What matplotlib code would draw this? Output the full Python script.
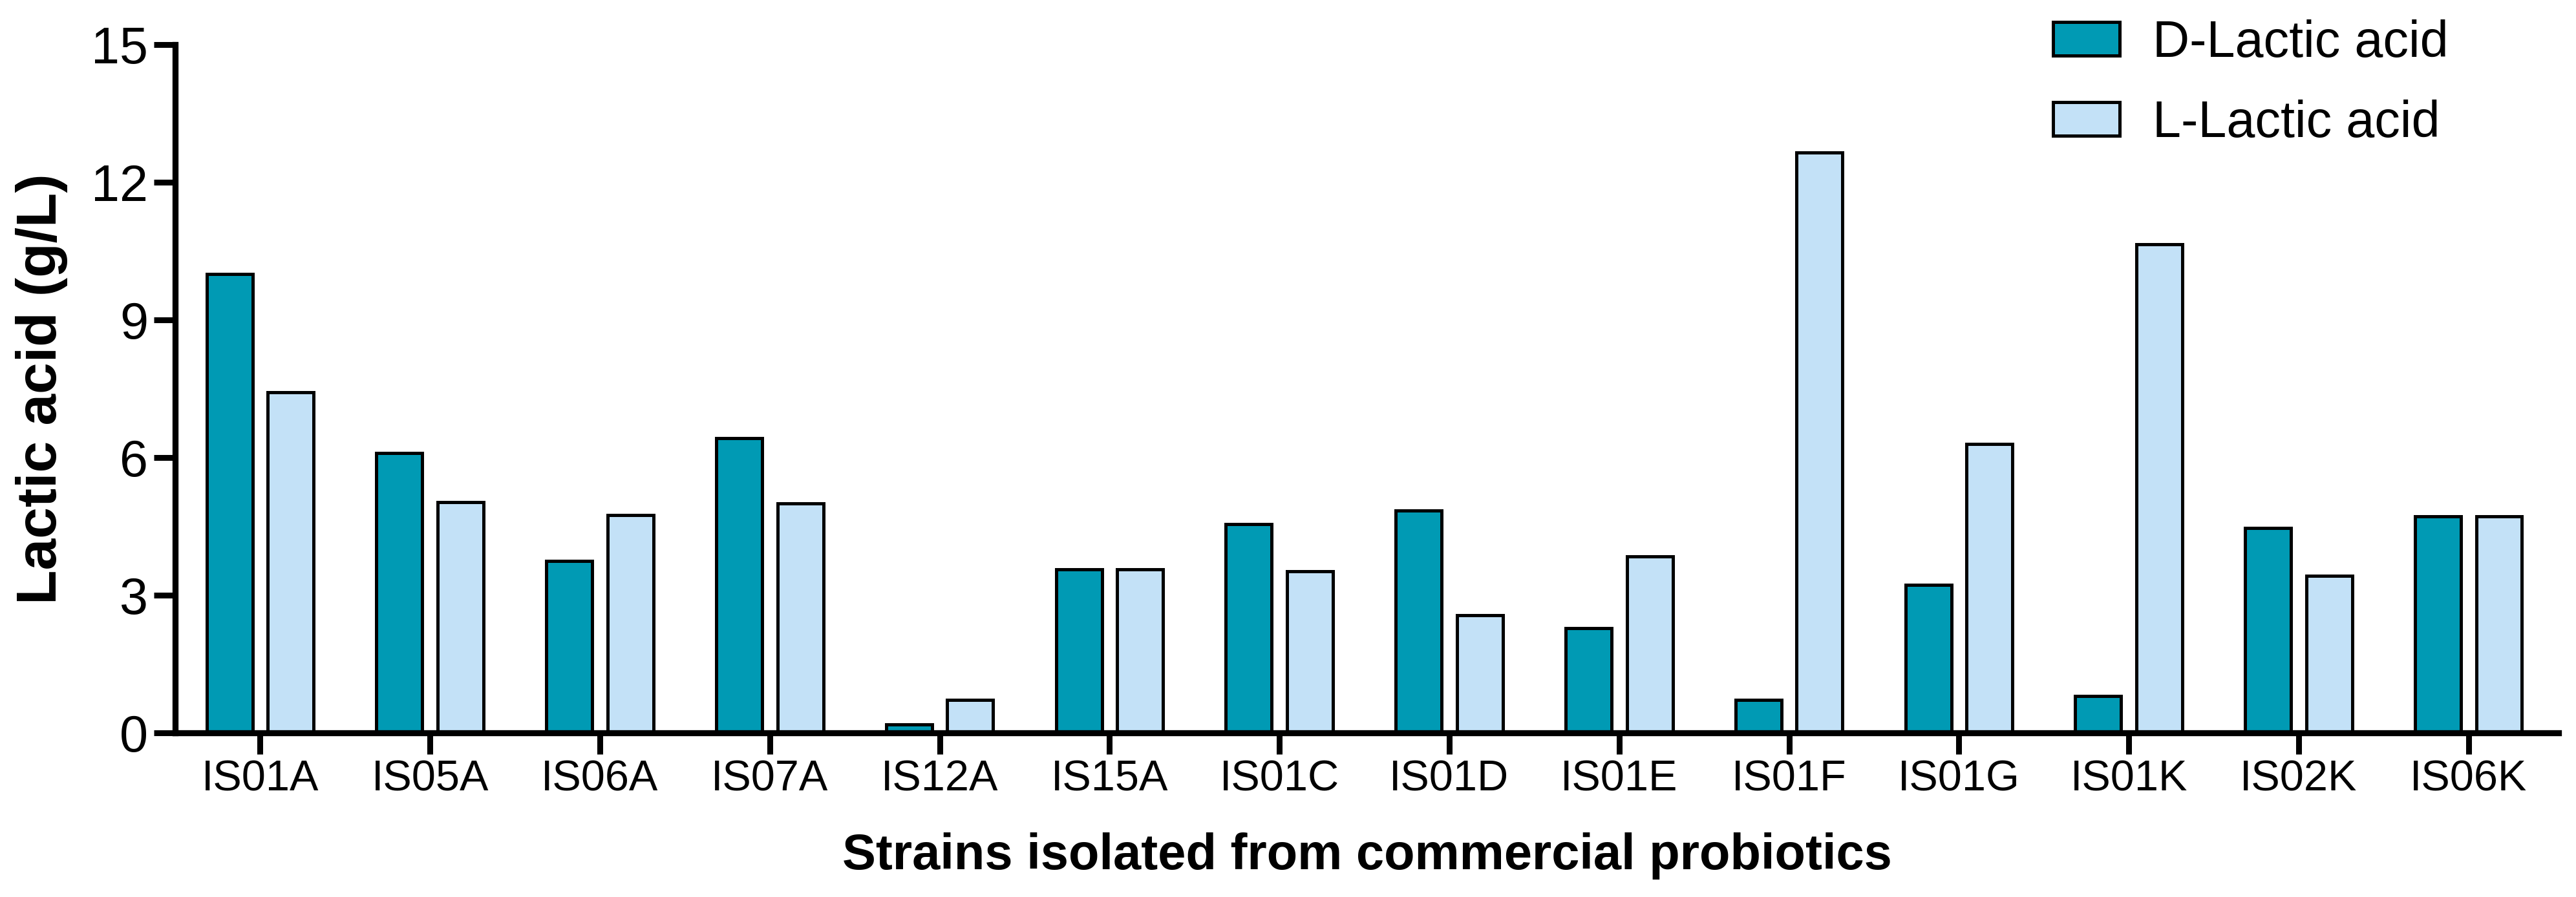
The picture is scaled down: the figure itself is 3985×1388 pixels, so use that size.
"""Lactic acid (D vs L) produced by strains isolated from commercial probiotics."""

import matplotlib
matplotlib.use("Agg")
import matplotlib.pyplot as plt
import numpy as np

strains = ["IS01A", "IS05A", "IS06A", "IS07A", "IS12A", "IS15A", "IS01C",
           "IS01D", "IS01E", "IS01F", "IS01G", "IS01K", "IS02K", "IS06K"]
d_lactic = [10.0, 6.1, 3.75, 6.42, 0.18, 3.57, 4.55, 4.85, 2.28, 0.72, 3.22, 0.8, 4.47, 4.72]
l_lactic = [7.42, 5.03, 4.75, 5.0, 0.72, 3.56, 3.52, 2.57, 3.85, 12.65, 6.3, 10.65, 3.42, 4.72]
y_ticks = [0, 3, 6, 9, 12, 15]

D_COLOR = "#009AB4"
L_COLOR = "#C3E1F7"

plt.rcParams["font.family"] = ["Liberation Sans", "DejaVu Sans"]

fig = plt.figure(figsize=(39.85, 13.88), dpi=100)
ax = fig.add_axes([271 / 3985, 1 - 1134 / 1388, (3958 - 271) / 3985, (1134 - 69) / 1388])

x = np.arange(len(strains))
w = 0.27
off = 0.18
ax.bar(x - off, d_lactic, w, color=D_COLOR, edgecolor="black", linewidth=3.6,
       label="D-Lactic acid", zorder=2)
ax.bar(x + off, l_lactic, w, color=L_COLOR, edgecolor="black", linewidth=3.6,
       label="L-Lactic acid", zorder=2)

ax.set_xlim(-0.5, len(strains) - 1 + 0.53)
ax.set_ylim(0, 15)
ax.set_yticks(y_ticks)
ax.set_xticks(x)
ax.set_xticklabels(strains, fontsize=48)
ax.tick_params(axis="y", labelsize=57, width=6.5, length=24, pad=6)
ax.tick_params(axis="x", width=6.5, length=24, pad=6)

for side in ("top", "right"):
    ax.spines[side].set_visible(False)
for side in ("left", "bottom"):
    ax.spines[side].set_linewidth(6.7)
    ax.spines[side].set_zorder(3)

ax.set_ylabel("Lactic acid (g/L)", fontsize=63, fontweight="bold", labelpad=26)
ax.set_xlabel("Strains isolated from commercial probiotics", fontsize=56,
              fontweight="bold", labelpad=36)

fig.legend(loc="upper left", bbox_to_anchor=(3176 / 3985, 1 - 30 / 1388), frameon=False,
           fontsize=57, handlelength=1.3, handleheight=0.63, handletextpad=0.65,
           labelspacing=0.62, borderpad=0, borderaxespad=0)

fig.savefig("out.png", dpi=100)
plt.close(fig)
